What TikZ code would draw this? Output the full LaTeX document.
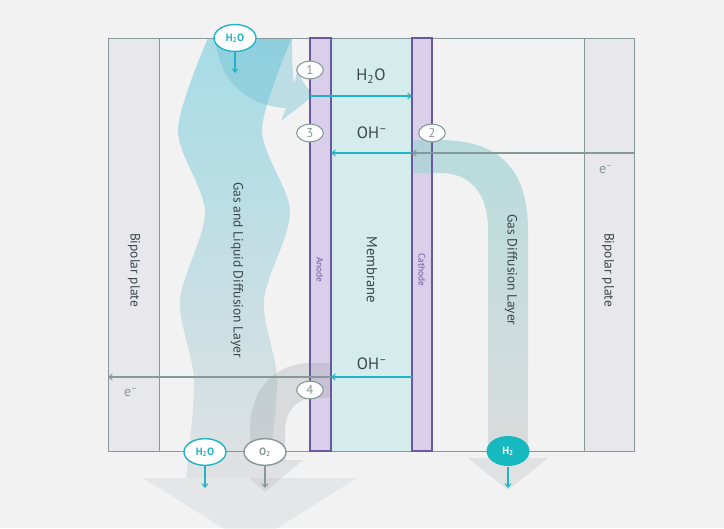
\documentclass[tikz,border=0pt]{standalone}
\usepackage{fontspec}
\setmainfont{PT Sans}
\usepackage{tikz}
\usetikzlibrary{arrows.meta, positioning, shapes.geometric}
\definecolor{Paper}{RGB}{242,242,242}
\definecolor{Plate}{RGB}{232,231,236}
\definecolor{Frame}{RGB}{135,152,152}
\definecolor{Electrode}{RGB}{218,207,234}
\definecolor{ElecLine}{RGB}{105,90,160}
\definecolor{Membrane}{RGB}{212,236,236}
\definecolor{Water}{RGB}{166,220,230}
\definecolor{WaterDark}{RGB}{110,190,210}
\definecolor{Flow}{RGB}{32,180,200}
\definecolor{Hydrogen}{RGB}{22,185,192}
\definecolor{GasTeal}{RGB}{160,212,212}
\definecolor{Fade}{RGB}{160,165,170}
\definecolor{Ink}{RGB}{60,70,72}

\begin{document}
\begin{tikzpicture}[x=0.03cm, y=-0.03cm,
	lay/.style={rotate=-90, text=Ink, font=\fontsize{11.5}{13}\selectfont},
	big/.style={text=Ink, font=\fontsize{14}{16}\selectfont},
	num/.style={ellipse, draw=Frame, fill=white, line width=0.9pt, minimum width=0.8cm,
		minimum height=0.53cm, inner sep=0pt, text=Frame, font=\fontsize{11}{11}\selectfont},
	port/.style={ellipse, line width=1.2pt, minimum width=1.26cm, minimum height=0.8cm,
		inner sep=0pt, font=\bfseries\fontsize{9}{9}\selectfont},
	flow/.style={-{Straight Barb[length=3pt, width=5pt]}, line width=0.9pt}]
	\fill[Paper] (0,0) rectangle (724,528);
	\useasboundingbox (0,0) rectangle (724,528);
	% layers
	\fill[Plate] (108,38) rectangle (159,451);
	\fill[Plate] (584,38) rectangle (634,451);
	\fill[Membrane] (331,38) rectangle (412,451);
	\fill[Electrode] (310,38) rectangle (331,451);
	\fill[Electrode] (412,38) rectangle (432,451);
	% outlet arrows
	\fill[Fade, opacity=0.15] (143,478) -- (357,478) -- (250,545) -- cycle;
	\fill[Fade, opacity=0.22] (228,460) -- (303,460) -- (265,492) -- cycle;
	\fill[Fade, opacity=0.22] (468,458) -- (548,458) -- (508,490) -- cycle;
	% water band
	\shade[top color=Water, middle color=Water!90!Paper, bottom color=Fade!22!Paper]
		plot[smooth] coordinates {(208,38) (178,130) (205,212) (180,300) (194,380) (186,478)}
		-- plot[smooth] coordinates {(268,478) (277,380) (264,300) (290,212) (262,130) (292,38)} -- cycle;
	\fill[WaterDark, opacity=0.4] (215,38) .. controls (220,85) and (250,106) .. (286,108)
		-- (281,121) -- (313,96) -- (297,73) -- (294,84) .. controls (292,70) and (292,52) .. (292,38) -- cycle;
	% hydrogen and oxygen bands
	\shade[top color=GasTeal, bottom color=Fade!40!Paper, opacity=0.7] (412,140) -- (440,140)
		.. controls (500,140) and (528,170) .. (528,230) -- (528,458) -- (488,458) -- (488,230)
		.. controls (488,195) and (472,173) .. (440,173) -- (412,173) -- cycle;
	\fill[Fade, opacity=0.3] (331,363) -- (312,363) .. controls (272,363) and (250,392) .. (250,430)
		-- (250,460) -- (285,460) -- (285,432) .. controls (285,410) and (297,398) .. (316,398) -- (331,398) -- cycle;
	% outlines
	\draw[Frame, line width=0.8pt] (108,38) rectangle (634,451) (159,38) -- (159,451) (584,38) -- (584,451);
	\draw[ElecLine, line width=1pt] (310,38) rectangle (331,451) (412,38) rectangle (432,451);
	% ion and electron paths
	\coordinate (a1) at (310,96);
	\coordinate (c1) at (412,96);
	\coordinate (a2) at (331,153);
	\coordinate (c2) at (412,153);
	\coordinate (r2) at (634,153);
	\coordinate (a4) at (331,377);
	\coordinate (c4) at (412,377);
	\coordinate (l4) at (108,377);
	\draw[flow, Frame] (r2) -- (c2);
	\draw[flow, Flow] (c2) -- (a2);
	\draw[flow, Flow] (a1) -- (c1);
	\draw[flow, Flow] (c4) -- (a4);
	\draw[flow, Frame] (a4) -- (l4);
	% labels
	\node[big] (waterLbl) at (371,76) {H\textsubscript{2}O};
	\node[big] (ohTop) at (372,133) {OH\textsuperscript{--}};
	\node[big] (ohBot) at (372,364) {OH\textsuperscript{--}};
	\node[text=Frame, font=\fontsize{12}{12}\selectfont] (eR) at (606,170) {e\textsuperscript{--}};
	\node[text=Frame, font=\fontsize{12}{12}\selectfont] (eL) at (131,393) {e\textsuperscript{--}};
	\foreach \n/\x/\lab in {plateL/134/Bipolar plate, gdlL/237/Gas and Liquid Diffusion Layer,
		gdlR/511/Gas Diffusion Layer, plateR/608/Bipolar plate}{
		\node[lay] (\n) at (\x,270) {\lab};
	}
	\node[lay, font=\fontsize{12.5}{14}\selectfont] (memb) at (372,270) {Membrane};
	\node[lay, text=ElecLine, font=\fontsize{8}{9}\selectfont] (anode) at (320,270) {Anode};
	\node[lay, text=ElecLine, font=\fontsize{8}{9}\selectfont] (cathode) at (422,270) {Cathode};
	\foreach \k/\x/\y in {1/310/70, 2/432/133, 3/310/133, 4/310/390}{
		\node[num] (n\k) at (\x,\y) {\k};
	}
	% inlet and outlets
	\node[port, draw=Flow, fill=white, text=Flow, minimum height=0.81cm] (inH2O) at (235,38) {H\textsubscript{2}O};
	\node[port, draw=Flow, fill=white, text=Flow] (outH2O) at (205,452) {H\textsubscript{2}O};
	\node[port, draw=Frame, fill=white, text=Frame] (outO2) at (265,452) {O\textsubscript{2}};
	\node[port, fill=Hydrogen, text=white, minimum width=1.29cm, minimum height=0.9cm] (outH2) at (508,451) {H\textsubscript{2}};
	\coordinate (inH2Otip) at (235,73);
	\draw[flow, Flow] (inH2O) -- (inH2Otip);
	\foreach \p/\x/\c in {outH2O/205/Flow, outO2/265/Frame, outH2/508/Flow}{
		\coordinate (\p tip) at (\x,488);
		\draw[flow, \c] (\p) -- (\p tip);
	}
\end{tikzpicture}
\end{document}
